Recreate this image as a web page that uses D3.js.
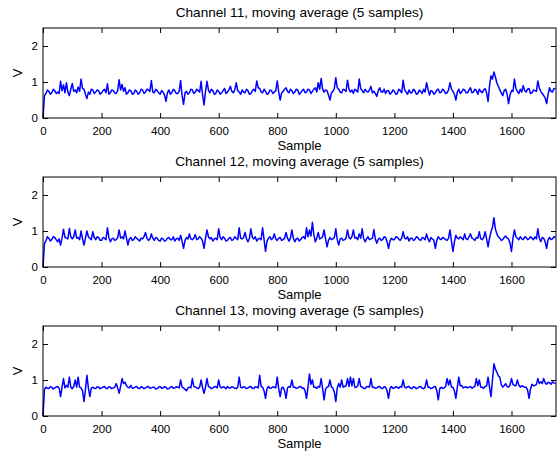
<!DOCTYPE html>
<html>
<head>
<meta charset="utf-8">
<script src="https://cdn.jsdelivr.net/npm/d3@7"></script>
<style>
  html, body { margin: 0; padding: 0; background: #fff; }
  svg { display: block; }
  text { font-family: "Liberation Sans", Arial, Helvetica, sans-serif; fill: #000; }
</style>
</head>
<body>
<svg id="chart" width="557" height="456"></svg>
<script>
// Recorded signals, one value every 5 samples (sample 0 .. 1750)
const sampleStep = 5;

const channelTitles = [
  "Channel 11, moving average (5 samples)",
  "Channel 12, moving average (5 samples)",
  "Channel 13, moving average (5 samples)"
];

const ch11 = [
  0.00,0.62,0.68,0.78,0.74,0.66,0.70,0.80,0.76,0.68,
  0.72,0.68,1.02,0.76,0.92,0.70,0.98,0.72,0.62,0.80,
  0.96,0.74,0.78,0.70,0.86,0.74,1.08,0.82,0.80,0.66,
  0.54,0.72,0.66,0.80,0.78,0.68,0.72,0.78,0.76,0.66,
  0.70,0.76,0.80,0.70,0.95,0.66,0.70,0.78,0.76,0.70,
  0.68,0.76,1.06,0.78,0.93,0.74,0.84,0.66,0.70,0.78,
  0.76,0.66,0.68,0.78,0.74,0.66,0.70,0.80,0.78,0.68,
  0.72,0.80,0.78,0.74,1.04,0.72,0.70,0.80,0.76,0.70,
  0.66,0.76,0.72,0.64,0.46,0.70,0.78,0.66,0.70,0.80,
  0.76,0.68,0.68,0.74,1.04,0.62,0.38,0.70,0.74,0.66,
  0.70,0.80,0.78,0.68,0.72,0.80,0.76,0.72,1.02,0.64,
  0.36,0.74,1.02,0.78,0.70,0.80,0.76,0.66,0.68,0.78,
  0.74,0.66,0.70,0.76,0.82,0.68,0.72,0.78,0.88,0.74,
  0.70,0.78,0.98,0.76,0.72,0.66,0.78,0.72,0.70,0.80,
  0.76,0.66,0.68,0.76,0.80,0.74,1.03,0.84,0.82,0.72,
  0.70,0.80,0.74,0.66,0.68,0.78,0.76,0.68,0.72,0.76,
  1.03,0.72,0.50,0.70,0.74,0.80,0.84,0.74,0.70,0.80,
  0.76,0.68,0.72,0.80,0.78,0.66,0.70,0.76,0.80,0.70,
  0.72,0.80,0.78,0.68,0.74,0.80,0.84,0.72,0.98,0.80,
  1.10,0.80,0.72,0.78,0.76,0.64,0.50,0.70,0.74,0.82,
  1.12,0.84,0.80,0.72,0.70,0.80,0.78,0.74,1.05,0.80,
  0.72,0.78,0.68,0.80,0.76,0.72,1.08,0.82,0.76,0.70,
  0.80,0.74,0.72,0.78,0.88,0.70,0.74,0.68,0.60,0.76,
  0.84,0.72,0.72,0.80,0.68,0.76,0.76,0.66,0.70,0.78,
  0.74,0.66,0.68,0.80,0.76,0.70,1.05,0.78,0.72,0.66,
  0.78,0.70,0.70,0.80,0.76,0.66,0.68,0.78,0.74,0.68,
  0.80,0.72,0.98,0.80,0.64,0.76,0.74,0.66,0.70,0.78,
  0.80,0.70,0.72,0.80,0.76,0.68,0.70,0.78,0.98,0.80,
  0.74,0.66,0.50,0.72,0.80,0.68,0.72,0.80,0.78,0.70,
  0.70,0.78,0.84,0.70,0.72,0.80,0.76,0.66,0.80,0.74,
  0.70,0.78,0.82,0.70,0.46,0.90,1.17,1.08,1.28,1.14,
  0.98,0.88,0.78,0.70,0.62,0.76,0.80,0.66,0.40,0.64,
  0.76,0.74,1.08,0.82,0.74,0.68,0.80,0.72,0.90,0.76,
  0.72,0.80,0.82,0.68,0.70,0.78,0.76,0.74,1.03,0.84,
  0.74,0.68,0.62,0.56,0.40,0.66,0.84,0.74,0.72,0.82,
  0.80
];

const ch12 = [
  0.00,0.66,0.72,0.84,0.80,0.72,0.76,0.84,0.82,0.76,
  0.70,0.78,0.61,0.80,1.05,0.82,0.80,0.78,1.07,0.84,
  0.78,0.84,1.03,0.80,0.82,0.76,1.00,0.78,0.61,0.80,
  1.00,0.84,0.80,0.76,0.98,0.82,0.76,0.84,0.82,0.74,
  0.74,0.82,0.80,0.76,1.09,0.82,0.70,0.78,0.80,0.74,
  0.76,0.82,1.03,0.80,0.84,0.78,1.00,0.80,0.61,0.78,
  0.82,0.74,0.76,0.84,0.80,0.76,0.72,0.80,0.78,0.84,
  0.96,0.80,0.74,0.78,0.92,0.80,0.74,0.82,0.80,0.74,
  0.72,0.80,0.78,0.72,0.74,0.80,0.82,0.76,0.76,0.84,
  0.72,0.78,0.80,0.74,0.88,0.72,0.52,0.74,0.82,0.78,
  0.92,0.78,0.76,0.80,0.90,0.76,0.78,0.84,0.80,0.72,
  0.52,0.80,1.03,0.84,0.78,0.82,0.72,0.78,0.80,0.76,
  1.06,0.82,0.76,0.84,0.80,0.72,0.74,0.80,0.82,0.74,
  0.76,0.84,0.80,0.76,1.09,0.80,0.78,0.82,0.96,0.78,
  0.70,0.80,1.06,0.82,0.78,0.84,0.72,0.78,0.80,0.76,
  1.09,0.76,0.43,0.72,0.80,0.84,0.76,0.80,0.92,0.78,
  0.74,0.80,0.82,0.74,0.76,0.80,0.96,0.80,0.72,0.80,
  1.03,0.80,0.70,0.78,0.80,0.72,0.76,0.82,0.84,0.78,
  1.09,0.84,1.03,0.86,1.24,0.90,0.70,0.80,0.96,0.78,
  0.80,0.84,1.03,0.78,0.56,0.74,0.82,0.76,0.78,0.82,
  1.06,0.76,0.61,0.78,0.80,0.74,0.76,0.80,1.03,0.82,
  0.78,0.84,1.03,0.80,0.82,0.76,0.92,0.80,1.06,0.80,
  0.70,0.78,0.84,0.76,0.78,0.80,1.04,0.78,0.66,0.78,
  0.80,0.74,0.76,0.84,0.82,0.70,0.52,0.72,0.80,0.76,
  0.76,0.84,0.82,0.78,0.74,0.80,0.98,0.80,0.78,0.84,
  0.72,0.80,0.80,0.74,0.76,0.84,0.82,0.76,0.74,0.82,
  0.80,0.76,0.92,0.78,0.70,0.82,0.78,0.74,0.52,0.74,
  0.84,0.78,0.76,0.82,0.80,0.76,0.74,0.80,1.03,0.72,
  0.43,0.70,0.88,0.80,0.78,0.84,0.80,0.76,0.92,0.78,
  0.76,0.84,0.92,0.80,0.78,0.74,0.82,0.80,0.98,0.78,
  0.76,0.82,0.98,0.78,0.56,0.80,0.98,1.10,1.37,1.06,
  0.92,0.84,0.80,0.74,0.76,0.82,0.86,0.80,0.78,0.66,
  0.43,0.80,1.03,0.84,0.80,0.76,0.84,0.78,0.76,0.84,
  0.82,0.76,0.78,0.84,0.80,0.76,0.84,0.78,1.06,0.80,
  0.70,0.82,0.80,0.70,0.52,0.76,0.82,0.76,0.78,0.84,
  0.82
];

const ch13 = [
  0.00,0.74,0.80,0.77,0.76,0.81,0.80,0.75,0.78,0.80,
  0.82,0.78,0.54,0.80,1.04,0.78,0.85,0.80,1.08,0.80,
  0.76,0.82,1.00,0.80,1.08,0.80,0.78,0.70,0.40,0.74,
  1.13,0.78,0.54,0.78,0.80,0.77,0.76,0.81,0.80,0.76,
  0.78,0.80,0.82,0.77,0.76,0.81,0.80,0.76,0.78,0.80,
  0.90,0.78,0.63,0.82,1.04,0.90,0.94,0.84,0.80,0.78,
  0.85,0.77,0.78,0.80,0.82,0.77,0.76,0.81,0.80,0.76,
  0.78,0.81,0.82,0.77,0.78,0.80,0.80,0.75,0.76,0.80,
  0.82,0.77,0.78,0.81,0.80,0.75,0.76,0.80,0.82,0.77,
  0.78,0.81,0.80,0.78,1.00,0.80,0.78,0.74,0.70,0.78,
  0.80,0.78,1.04,0.82,0.80,0.78,0.76,0.80,1.00,0.78,
  0.63,0.80,1.04,0.82,0.80,0.76,0.78,0.81,0.82,0.78,
  1.00,0.80,0.78,0.81,0.80,0.76,0.82,0.78,0.78,0.81,
  0.80,0.77,0.76,0.80,1.08,0.80,0.78,0.81,0.80,0.76,
  0.78,0.81,0.82,0.77,0.76,0.81,0.80,0.78,1.13,0.82,
  0.80,0.70,0.49,0.76,0.82,0.77,0.78,0.81,0.80,0.78,
  1.08,0.76,0.54,0.78,0.80,0.70,0.49,0.78,0.82,0.80,
  1.00,0.80,0.80,0.77,0.78,0.81,0.82,0.77,0.78,0.70,
  0.49,0.80,1.17,0.88,1.00,0.80,0.80,0.77,0.82,0.80,
  1.04,0.76,0.45,0.74,0.80,0.82,1.00,0.80,0.78,0.66,
  0.40,0.78,0.90,0.80,1.00,0.80,0.82,0.84,1.04,0.82,
  1.08,0.84,1.04,0.80,0.80,0.84,1.04,0.82,0.80,0.77,
  0.76,0.81,0.82,0.80,1.04,0.80,0.80,0.77,0.78,0.81,
  0.82,0.77,0.76,0.81,0.80,0.70,0.49,0.76,0.82,0.77,
  0.78,0.81,0.80,0.77,0.82,0.80,1.00,0.80,0.78,0.81,
  0.82,0.77,0.76,0.81,0.80,0.76,0.78,0.81,0.82,0.77,
  0.76,0.80,1.00,0.80,0.80,0.76,0.78,0.81,0.82,0.70,
  0.45,0.76,0.80,0.77,0.78,0.82,1.04,0.86,1.00,0.80,
  0.80,0.70,0.49,0.80,1.08,0.84,0.85,0.78,0.80,0.81,
  0.78,0.80,0.82,0.77,0.80,0.82,1.04,0.84,1.00,0.80,
  0.80,0.77,0.82,0.84,1.08,0.80,0.54,1.00,1.45,1.30,
  1.22,1.12,1.08,0.88,0.80,0.84,0.90,0.82,0.80,0.86,
  1.04,0.88,0.85,0.84,1.00,0.86,0.80,0.84,0.82,0.80,
  0.80,0.72,0.49,0.76,0.88,0.84,0.85,0.88,1.04,0.90,
  0.95,0.90,1.04,0.92,0.88,0.94,0.92,0.88,0.95,0.92,
  0.90
];

const channels = [ch11, ch12, ch13];

const xTicks = [0, 200, 400, 600, 800, 1000, 1200, 1400, 1600];
const yTicks = [0, 1, 2];
const xMax = 1752;
const yMax = 2.5;

const xLabel = "Sample";
const yLabel = "V";

// Layout of the three stacked panels
const panel = { left: 43, right: 556, height: 90, tops: [28, 177, 326] };
const tickLen = 5;
const fmt = d3.format("d");

const svg = d3.select("#chart");
svg.append("rect").attr("width", 557).attr("height", 456).attr("fill", "#fff");

const x = d3.scaleLinear().domain([0, xMax]).range([panel.left, panel.right]);

channels.forEach((values, k) => {
  const top = panel.tops[k];
  const bottom = top + panel.height;
  const y = d3.scaleLinear().domain([0, yMax]).range([bottom, top]);
  const g = svg.append("g");

  // data line
  const line = d3.line()
    .x((d, i) => x(i * sampleStep))
    .y(d => y(d));
  g.append("path")
    .datum(values)
    .attr("fill", "none")
    .attr("stroke", "#0000ff")
    .attr("stroke-width", 1.5)
    .attr("stroke-linejoin", "round")
    .attr("d", line);

  // bottom axis with labels, ticks pointing inward
  const gx = g.append("g").attr("transform", `translate(0,${bottom})`)
    .call(d3.axisBottom(x).tickValues(xTicks).tickFormat(fmt).tickSizeInner(-tickLen).tickSizeOuter(0).tickPadding(9));
  // top axis, ticks only
  const gxt = g.append("g").attr("transform", `translate(0,${top})`)
    .call(d3.axisTop(x).tickValues(xTicks).tickSizeInner(-tickLen).tickSizeOuter(0).tickFormat(""));
  // left axis with labels
  const gy = g.append("g").attr("transform", `translate(${panel.left},0)`)
    .call(d3.axisLeft(y).tickValues(yTicks).tickFormat(fmt).tickSizeInner(-tickLen).tickSizeOuter(0).tickPadding(5));
  // right axis, ticks only
  const gyr = g.append("g").attr("transform", `translate(${panel.right},0)`)
    .call(d3.axisRight(y).tickValues(yTicks).tickSizeInner(-tickLen).tickSizeOuter(0).tickFormat(""));

  [gx, gxt, gy, gyr].forEach(a => {
    a.select(".domain").remove();
    a.selectAll("line").attr("stroke", "#000").attr("stroke-width", 1);
    a.selectAll("text").attr("font-size", 11.5).attr("font-family", "Liberation Sans, Arial, sans-serif").attr("fill", "#000");
  });

  // box
  g.append("rect")
    .attr("x", panel.left).attr("y", top)
    .attr("width", panel.right - panel.left).attr("height", panel.height)
    .attr("fill", "none").attr("stroke", "#000").attr("stroke-width", 1);

  // title
  g.append("text")
    .attr("x", (panel.left + panel.right) / 2).attr("y", top - 11)
    .attr("text-anchor", "middle").attr("font-size", 13.6)
    .text(channelTitles[k]);

  // axis labels
  g.append("text")
    .attr("x", (panel.left + panel.right) / 2).attr("y", bottom + 32)
    .attr("text-anchor", "middle").attr("font-size", 13)
    .text(xLabel);
  g.append("text")
    .attr("transform", `translate(22,${(top + bottom) / 2}) rotate(-90)`)
    .attr("text-anchor", "middle").attr("font-size", 13)
    .text(yLabel);
});
</script>
</body>
</html>
